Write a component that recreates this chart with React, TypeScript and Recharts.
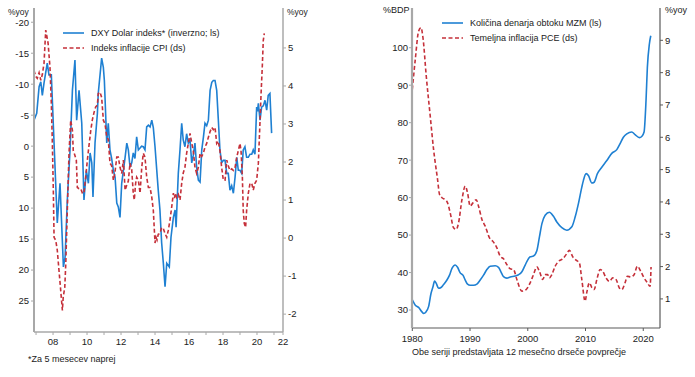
import React from "react";
import { LineChart, Line, XAxis, YAxis } from "recharts";

const FONT = "'Liberation Sans', Arial, sans-serif";
const BLUE = "#1f80d2";
const RED = "#c5303a";
const GREY = "#a8a8a8";
const DARK = "#5a5a5a";

// levi graf: DXY (inverzno, ls) in CPI (ds), [leto, vrednost]
const DXY: [number, number][] = [
  [2006.88, -4.2], [2007.04, -5.3], [2007.18, -9.6], [2007.28, -10.4], [2007.37, -8.2], [2007.47, -10.2],
  [2007.66, -13.4], [2007.76, -11.5], [2007.9, -11.5], [2008.06, -0.5], [2008.25, 12.4], [2008.41, 6.0],
  [2008.61, 19.5], [2008.71, 17.9], [2008.84, 8.7], [2009.0, 0.6], [2009.14, -9.0], [2009.29, -13.9],
  [2009.39, -4.2], [2009.53, -9.0], [2009.69, -3.7], [2009.82, 8.7], [2009.96, 3.9], [2010.08, 6.0],
  [2010.18, 1.1], [2010.28, 2.7], [2010.35, 8.2], [2010.47, -0.5], [2010.61, -5.3], [2010.66, -8.5],
  [2010.86, -14.2], [2010.96, -12.7], [2011.02, -10.6], [2011.16, -0.5], [2011.25, -3.7], [2011.35, 0.6],
  [2011.45, 2.0], [2011.55, 3.9], [2011.65, 5.0], [2011.75, 9.2], [2011.84, 9.8], [2011.94, 11.5],
  [2012.04, 6.0], [2012.14, 3.9], [2012.24, 1.8], [2012.34, -0.5], [2012.43, 0.6], [2012.53, 3.4],
  [2012.63, 2.7], [2012.72, 1.1], [2012.82, 2.0], [2012.92, -1.5], [2013.02, 0.6], [2013.12, 0.3],
  [2013.21, 0.0], [2013.31, 0.1], [2013.41, 0.6], [2013.51, -3.1], [2013.61, -3.4], [2013.71, -3.1],
  [2013.81, -4.2], [2013.9, -3.0], [2014.0, 0.1], [2014.19, 7.1], [2014.29, 10.3], [2014.39, 15.6],
  [2014.49, 18.9], [2014.59, 22.7], [2014.69, 18.9], [2014.84, 19.5], [2014.94, 14.7], [2015.08, 11.5],
  [2015.18, 10.3], [2015.24, 13.1], [2015.37, 4.4], [2015.47, 0.6], [2015.57, -3.7], [2015.66, -1.0],
  [2015.76, 0.1], [2015.86, -2.0], [2015.96, -0.5], [2016.06, -1.0], [2016.16, 2.7], [2016.25, 1.5],
  [2016.35, -0.5], [2016.45, 3.4], [2016.55, 5.5], [2016.65, 5.8], [2016.75, 0.6], [2016.85, -1.5],
  [2016.94, -3.7], [2017.04, -3.3], [2017.14, -4.2], [2017.24, -9.0], [2017.34, -10.3], [2017.43, -10.6],
  [2017.53, -10.6], [2017.63, -9.0], [2017.72, -4.5], [2017.82, 0.6], [2017.92, 2.7], [2018.02, 2.3],
  [2018.12, 2.3], [2018.22, 4.4], [2018.31, 4.4], [2018.41, 7.1], [2018.51, 6.4], [2018.61, 7.6],
  [2018.71, 5.0], [2018.81, 1.8], [2018.9, 3.9], [2019.0, 3.9], [2019.1, 4.4], [2019.19, 0.6],
  [2019.29, 0.1], [2019.39, 1.8], [2019.49, 1.8], [2019.59, 1.3], [2019.69, 1.3], [2019.78, 0.6],
  [2019.88, 1.3], [2019.98, -6.3], [2020.03, -5.6], [2020.08, -6.9], [2020.18, -4.2], [2020.27, -6.3],
  [2020.37, -6.5], [2020.47, -7.4], [2020.57, -5.8], [2020.66, -8.2], [2020.76, -8.5], [2020.86, -2.1],
];

const CPI: [number, number][] = [
  [2006.88, 4.41], [2006.98, 4.25], [2007.07, 4.2], [2007.18, 4.35], [2007.28, 4.15], [2007.37, 4.3],
  [2007.47, 4.6], [2007.57, 5.47], [2007.62, 5.35], [2007.71, 5.12], [2007.82, 4.49], [2007.9, 3.54],
  [2007.96, 2.5], [2008.02, 1.18], [2008.06, 0.02], [2008.16, -0.06], [2008.25, -0.32], [2008.35, -0.85],
  [2008.45, -1.37], [2008.55, -1.9], [2008.6, -1.55], [2008.69, -1.3], [2008.75, -0.67], [2008.84, 0.73],
  [2008.94, 2.23], [2009.04, 3.1], [2009.14, 2.83], [2009.19, 2.3], [2009.27, 2.2], [2009.37, 2.05],
  [2009.43, 1.33], [2009.53, 1.3], [2009.63, 1.3], [2009.73, 1.18], [2009.82, 1.18], [2009.92, 1.6],
  [2010.02, 2.05], [2010.12, 2.45], [2010.22, 2.83], [2010.31, 3.1], [2010.41, 3.3], [2010.51, 3.45],
  [2010.61, 3.5], [2010.66, 3.8], [2010.76, 3.84], [2010.86, 3.7], [2010.96, 3.1], [2011.06, 3.0],
  [2011.16, 2.65], [2011.25, 2.6], [2011.35, 1.97], [2011.45, 1.9], [2011.55, 1.52], [2011.65, 1.75],
  [2011.75, 2.13], [2011.84, 2.13], [2011.94, 1.86], [2012.04, 1.7], [2012.14, 2.05], [2012.24, 1.26],
  [2012.34, 1.4], [2012.43, 1.5], [2012.53, 1.97], [2012.63, 1.8], [2012.72, 1.18], [2012.78, 1.0],
  [2012.86, 1.44], [2012.92, 1.6], [2013.02, 1.52], [2013.12, 1.18], [2013.22, 1.86], [2013.31, 2.23],
  [2013.41, 2.13], [2013.51, 1.6], [2013.61, 1.33], [2013.71, 1.33], [2013.81, 1.07], [2013.9, 0.73],
  [2014.0, -0.13], [2014.06, 0.02], [2014.12, -0.05], [2014.19, 0.1], [2014.29, 0.12], [2014.39, 0.28],
  [2014.49, 0.25], [2014.59, 0.12], [2014.69, 0.02], [2014.78, 0.2], [2014.88, 0.47], [2014.98, 0.81],
  [2015.08, 1.18], [2015.14, 1.05], [2015.2, 1.18], [2015.27, 1.07], [2015.37, 1.15], [2015.47, 1.0],
  [2015.57, 1.44], [2015.66, 1.71], [2015.76, 1.86], [2015.86, 2.23], [2015.96, 2.49], [2016.06, 2.75],
  [2016.16, 2.5], [2016.25, 2.3], [2016.35, 1.86], [2016.45, 1.7], [2016.55, 1.86], [2016.65, 2.23],
  [2016.75, 2.15], [2016.84, 2.23], [2016.94, 2.39], [2017.04, 2.49], [2017.14, 2.65], [2017.24, 2.8],
  [2017.34, 2.91], [2017.43, 2.85], [2017.53, 2.91], [2017.63, 2.49], [2017.72, 2.55], [2017.82, 2.3],
  [2017.92, 1.86], [2018.02, 1.52], [2018.12, 1.52], [2018.22, 2.05], [2018.31, 1.9], [2018.41, 1.78],
  [2018.51, 1.82], [2018.61, 1.78], [2018.71, 1.86], [2018.81, 2.13], [2018.9, 2.3], [2019.0, 2.49],
  [2019.06, 2.3], [2019.14, 1.6], [2019.19, 0.73], [2019.25, 0.39], [2019.33, 0.28], [2019.39, 0.73],
  [2019.49, 1.18], [2019.59, 1.44], [2019.69, 1.44], [2019.78, 1.26], [2019.88, 1.44], [2019.98, 1.52],
  [2020.08, 1.97], [2020.18, 3.1], [2020.24, 3.8], [2020.31, 4.49], [2020.37, 5.2], [2020.43, 5.38],
];

// desni graf: M2M (% BDP, ls) in temeljna PCE (ds)
const M2M: [number, number][] = [
  [1980.0, 32.7], [1980.52, 31.3], [1981.09, 30.7], [1981.68, 29.5], [1981.96, 29.1], [1982.37, 29.5],
  [1982.82, 30.9], [1983.24, 34.4], [1983.58, 36.2], [1983.86, 37.7], [1984.15, 37.1], [1984.55, 35.8],
  [1984.97, 36.0], [1985.42, 36.8], [1986.0, 38.0], [1986.45, 39.3], [1986.87, 41.1], [1987.44, 42.0],
  [1987.84, 41.4], [1988.3, 39.9], [1988.77, 39.3], [1989.17, 38.0], [1989.57, 36.9], [1990.03, 36.6],
  [1990.61, 36.6], [1991.19, 36.9], [1991.76, 38.0], [1992.34, 39.3], [1992.92, 40.8], [1993.49, 41.7],
  [1994.36, 41.8], [1994.93, 41.4], [1995.35, 40.2], [1995.8, 38.9], [1996.38, 38.5], [1996.96, 38.8],
  [1997.82, 39.1], [1998.39, 39.4], [1998.98, 40.2], [1999.55, 42.0], [2000.12, 43.7], [2000.42, 44.2],
  [2000.99, 44.4], [2001.57, 45.8], [2002.02, 49.5], [2002.44, 53.0], [2003.01, 55.3], [2003.75, 56.1],
  [2004.45, 55.0], [2005.03, 53.5], [2005.9, 52.0], [2006.76, 51.3], [2007.63, 52.2], [2008.2, 54.8],
  [2008.77, 58.4], [2009.36, 62.8], [2009.64, 64.6], [2010.1, 66.4], [2010.5, 65.9], [2011.09, 63.9],
  [2011.49, 64.1], [2012.06, 66.4], [2012.82, 68.1], [2013.69, 69.9], [2014.55, 71.8], [2015.42, 72.8],
  [2015.99, 74.4], [2016.56, 76.1], [2017.15, 77.0], [2018.01, 77.5], [2018.58, 76.8], [2019.33, 76.0],
  [2019.74, 76.3], [2020.14, 77.5], [2020.48, 85.9], [2020.71, 94.7], [2021.06, 101.0], [2021.3, 103.2],
];

const PCE: [number, number][] = [
  [1980.0, 7.48], [1980.52, 8.41], [1981.09, 9.28], [1981.51, 9.39], [1981.85, 9.08], [1982.42, 7.89],
  [1983.11, 6.65], [1983.69, 5.62], [1984.38, 4.69], [1984.72, 4.23], [1985.14, 4.13], [1985.71, 4.07],
  [1986.11, 3.97], [1986.57, 3.66], [1987.15, 3.2], [1987.61, 3.15], [1988.01, 3.35], [1988.6, 4.07],
  [1989.17, 4.49], [1989.57, 4.28], [1990.03, 3.87], [1990.5, 3.97], [1991.07, 4.07], [1991.47, 3.87],
  [1992.06, 3.46], [1992.63, 3.25], [1993.37, 2.89], [1993.96, 2.78], [1994.65, 2.58], [1995.22, 2.32],
  [1995.8, 2.24], [1996.38, 2.06], [1996.96, 1.93], [1997.53, 1.91], [1998.11, 1.6], [1998.98, 1.24],
  [1999.72, 1.29], [2000.42, 1.5], [2000.99, 1.75], [2001.57, 1.99], [2002.02, 1.85], [2002.61, 1.6],
  [2003.01, 1.75], [2003.44, 1.75], [2003.75, 1.65], [2004.17, 1.75], [2004.74, 2.01], [2005.31, 2.16],
  [2006.07, 2.24], [2006.64, 2.37], [2007.21, 2.5], [2007.8, 2.3], [2008.37, 2.2], [2008.94, 2.11],
  [2009.36, 1.6], [2009.93, 0.93], [2010.22, 1.2], [2010.67, 1.5], [2011.09, 1.35], [2011.49, 1.29],
  [2011.96, 1.6], [2012.53, 1.91], [2013.0, 1.85], [2013.56, 1.65], [2014.14, 1.54], [2014.72, 1.65],
  [2015.29, 1.6], [2015.86, 1.34], [2016.28, 1.29], [2016.85, 1.5], [2017.25, 1.7], [2017.84, 1.68],
  [2018.41, 1.75], [2018.98, 2.01], [2019.57, 1.85], [2020.14, 1.65], [2020.71, 1.5], [2021.18, 1.39],
  [2021.35, 1.99],
];

const LEFT_X_TICKS = [2007, 2008, 2009, 2010, 2011, 2012, 2013, 2014, 2015, 2016, 2017, 2018, 2019, 2020, 2021, 2021.53];
const LEFT_Y_TICKS = [-20, -15, -10, -5, 0, 5, 10, 15, 20, 25];
const LEFT_Y2_TICKS = [-2, -1, 0, 1, 2, 3, 4, 5];
const RIGHT_X_TICKS = [1980, 1990, 2000, 2010, 2020];
const RIGHT_Y_TICKS = [30, 40, 50, 60, 70, 80, 90, 100];
const RIGHT_Y2_TICKS = [1, 2, 3, 4, 5, 6, 7, 8, 9];

const toRows = (pts: [number, number][]) => pts.map(([t, v]) => ({ t, v }));

const tick = { fontSize: 9.5, fill: "#222", fontFamily: FONT };

type Item = { label: string; color: string; dash?: string };

function LegendBox({ items, x, y }: { items: Item[]; x: number; y: number }) {
  return (
    <div style={{ position: "absolute", left: x, top: y, fontFamily: FONT, fontSize: 9, color: "#222" }}>
      {items.map((it) => (
        <div key={it.label} style={{ display: "flex", alignItems: "center", height: 15, whiteSpace: "nowrap" }}>
          <svg width={28} height={6} style={{ flex: "none" }}>
            <line x1={0} x2={21} y1={3} y2={3} stroke={it.color} strokeWidth={1.6} strokeDasharray={it.dash} />
          </svg>
          <span>{it.label}</span>
        </div>
      ))}
    </div>
  );
}

function Note({ x, y, text, size = 9 }: { x: number; y: number; text: string; size?: number }) {
  return (
    <div
      style={{
        position: "absolute",
        left: x,
        top: y - size / 2,
        fontFamily: FONT,
        fontSize: size,
        lineHeight: 1,
        color: "#222",
        whiteSpace: "nowrap",
      }}
    >
      {text}
    </div>
  );
}

function LeftChart() {
  const fmt = (v: number) => (v === 2021.53 ? "22" : v % 2 === 0 ? String(v).slice(2) : "");
  return (
    <LineChart width={310} height={377} margin={{ top: 8, right: 0, bottom: 25, left: 0 }}>
      <XAxis
        xAxisId="b"
        dataKey="t"
        type="number"
        domain={[2006.88, 2021.53]}
        ticks={LEFT_X_TICKS}
        interval={0}
        tickFormatter={fmt}
        tick={tick}
        tickSize={3}
        tickMargin={3}
        height={20}
        axisLine={{ stroke: GREY, strokeWidth: 1.5 }}
        tickLine={{ stroke: GREY }}
        allowDataOverflow
      />
      <XAxis
        xAxisId="top"
        orientation="top"
        type="number"
        domain={[2006.88, 2021.53]}
        tick={false}
        tickLine={false}
        height={0}
        axisLine={{ stroke: GREY, strokeWidth: 1.5 }}
      />
      <YAxis
        yAxisId="l"
        reversed
        type="number"
        domain={[-22.3, 30]}
        ticks={LEFT_Y_TICKS}
        interval={0}
        width={34}
        tick={tick}
        tickSize={3}
        tickMargin={2}
        axisLine={{ stroke: GREY, strokeWidth: 2 }}
        tickLine={{ stroke: GREY }}
        allowDataOverflow
      />
      <YAxis
        yAxisId="r"
        orientation="right"
        type="number"
        domain={[-2.47, 6.05]}
        ticks={LEFT_Y2_TICKS}
        interval={0}
        width={27}
        tick={tick}
        tickSize={3}
        tickMargin={2}
        axisLine={{ stroke: GREY, strokeWidth: 1.5 }}
        tickLine={{ stroke: GREY }}
        allowDataOverflow
      />
      <Line
        xAxisId="b"
        yAxisId="l"
        data={toRows(DXY)}
        dataKey="v"
        type="linear"
        stroke={BLUE}
        strokeWidth={1.6}
        dot={false}
        isAnimationActive={false}
      />
      <Line
        xAxisId="b"
        yAxisId="r"
        data={toRows(CPI)}
        dataKey="v"
        type="linear"
        stroke={RED}
        strokeWidth={1.6}
        strokeDasharray="4 2.5"
        dot={false}
        isAnimationActive={false}
      />
    </LineChart>
  );
}

function RightChart() {
  return (
    <LineChart width={345} height={377} margin={{ top: 8, right: 5, bottom: 29, left: 0 }}>
      <XAxis
        xAxisId="b"
        dataKey="t"
        type="number"
        domain={[1979.95, 2022.9]}
        ticks={RIGHT_X_TICKS}
        interval={0}
        tick={tick}
        tickSize={3}
        tickMargin={4}
        height={20}
        axisLine={{ stroke: DARK, strokeWidth: 1.2 }}
        tickLine={{ stroke: DARK }}
        allowDataOverflow
      />
      <XAxis
        xAxisId="top"
        orientation="top"
        type="number"
        domain={[1979.95, 2022.9]}
        tick={false}
        tickLine={false}
        height={0}
        axisLine={{ stroke: GREY, strokeWidth: 1.5 }}
      />
      <YAxis
        yAxisId="l"
        type="number"
        domain={[25.2, 110.6]}
        ticks={RIGHT_Y_TICKS}
        interval={0}
        width={62}
        tick={tick}
        tickSize={3}
        tickMargin={1}
        axisLine={{ stroke: GREY, strokeWidth: 2.2 }}
        tickLine={{ stroke: GREY }}
        allowDataOverflow
      />
      <YAxis
        yAxisId="r"
        orientation="right"
        type="number"
        domain={[0.1, 10]}
        ticks={RIGHT_Y2_TICKS}
        interval={0}
        width={30}
        tick={tick}
        tickSize={3}
        tickMargin={2}
        axisLine={{ stroke: DARK, strokeWidth: 1.2 }}
        tickLine={{ stroke: DARK }}
        allowDataOverflow
      />
      <Line
        xAxisId="b"
        yAxisId="l"
        data={toRows(M2M)}
        dataKey="v"
        type="monotone"
        stroke={BLUE}
        strokeWidth={1.6}
        dot={false}
        isAnimationActive={false}
      />
      <Line
        xAxisId="b"
        yAxisId="r"
        data={toRows(PCE)}
        dataKey="v"
        type="monotone"
        stroke={RED}
        strokeWidth={1.6}
        strokeDasharray="4 2.5"
        dot={false}
        isAnimationActive={false}
      />
    </LineChart>
  );
}

export default function App() {
  return (
    <div style={{ position: "absolute", left: 0, top: 0, width: 695, height: 377, background: "#fff", overflow: "hidden" }}>
      <div style={{ position: "absolute", left: 0, top: 0 }}>
        <LeftChart />
      </div>
      <div style={{ position: "absolute", left: 350, top: 0 }}>
        <RightChart />
      </div>
      <LegendBox
        x={63}
        y={25.5}
        items={[
          { label: "DXY Dolar indeks* (inverzno; ls)", color: BLUE },
          { label: "Indeks inflacije CPI (ds)", color: RED, dash: "4 2.5" },
        ]}
      />
      <LegendBox
        x={442}
        y={15}
        items={[
          { label: "Količina denarja obtoku MZM (ls)", color: BLUE },
          { label: "Temeljna inflacija PCE (ds)", color: RED, dash: "4 2.5" },
        ]}
      />
      <Note x={8} y={12} text="%yoy" size={8.5} />
      <Note x={287} y={12.5} text="%yoy" size={8.5} />
      <Note x={383} y={10} text="%BDP" />
      <Note x={665} y={10.5} text="%yoy" />
      <Note x={28} y={359} text="*Za 5 mesecev naprej" />
      <Note x={412} y={352.7} text="Obe seriji predstavljata 12 mesečno drseče povprečje" />
    </div>
  );
}
